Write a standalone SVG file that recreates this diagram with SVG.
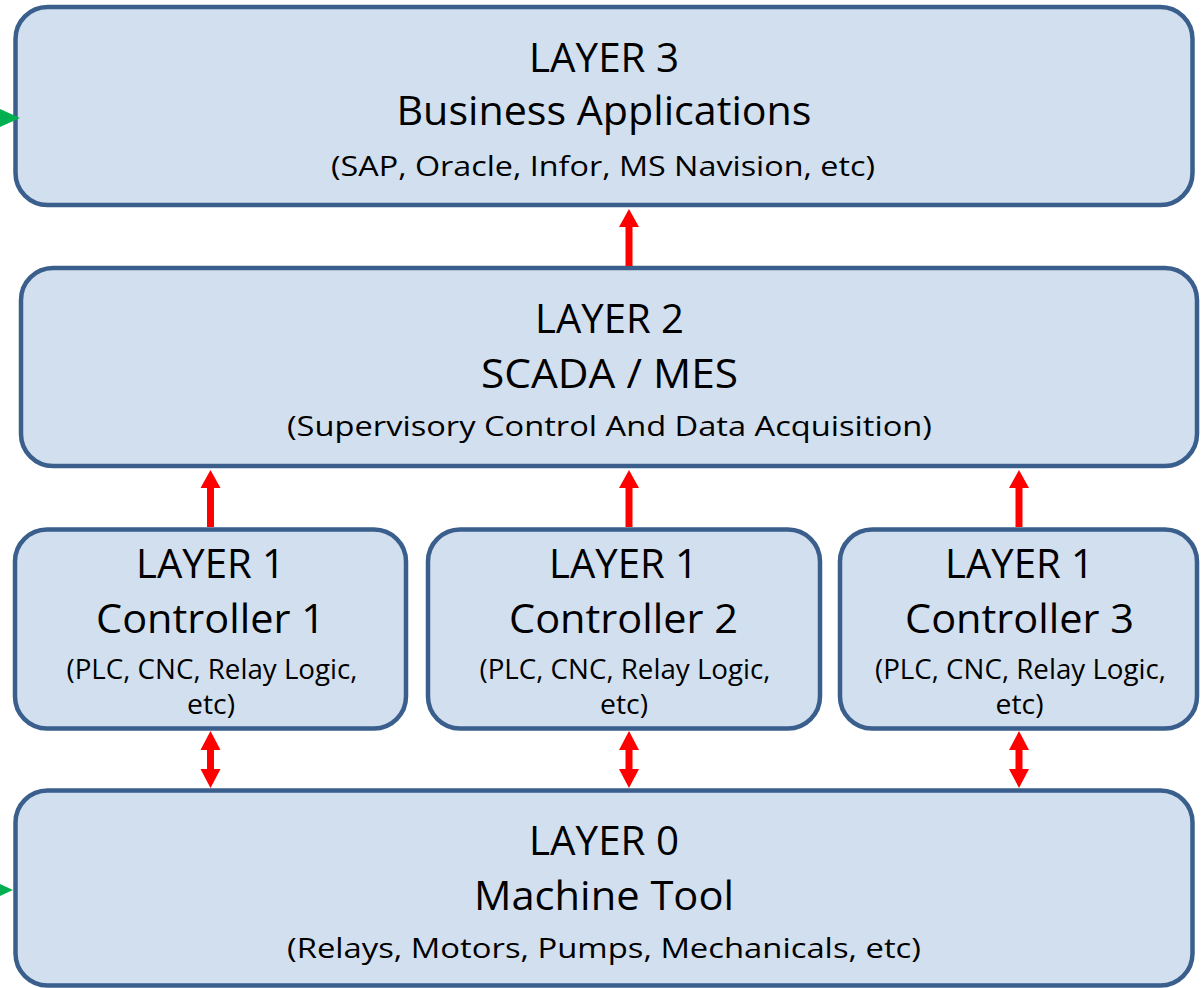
<svg xmlns="http://www.w3.org/2000/svg" width="1204" height="988" viewBox="0 0 1204 988">
<style>
.box{fill:#D2DFEE;stroke:#3A5F8D;stroke-width:4.5}
.t{font-family:"Open Sans",Lato,"Liberation Sans",sans-serif;fill:#000;text-anchor:middle}
.big{font-size:40px}
.sm{font-size:28px}
.red{fill:#FF0000}
.grn{fill:#00B050}
</style>
<rect width="1204" height="988" fill="#FFFFFF"/>
<g id="layer3">
<rect class="box" x="15.5" y="7" width="1177" height="198" rx="32"/>
<text class="t big" x="604" y="72" textLength="150" lengthAdjust="spacingAndGlyphs">LAYER 3</text>
<text class="t big" x="604" y="125" textLength="415" lengthAdjust="spacingAndGlyphs">Business Applications</text>
<text class="t sm" x="603" y="176" textLength="544" lengthAdjust="spacingAndGlyphs">(SAP, Oracle, Infor, MS Navision, etc)</text>
</g>
<g id="layer2">
<rect class="box" x="21" y="268" width="1176" height="198" rx="32"/>
<text class="t big" x="609.5" y="333" textLength="149" lengthAdjust="spacingAndGlyphs">LAYER 2</text>
<text class="t big" x="609.5" y="388" textLength="257" lengthAdjust="spacingAndGlyphs">SCADA / MES</text>
<text class="t sm" x="609.5" y="436" textLength="645" lengthAdjust="spacingAndGlyphs">(Supervisory Control And Data Acquisition)</text>
</g>
<g id="controller1">
<rect class="box" x="15" y="529.5" width="391" height="199" rx="32"/>
<text class="t big" x="210.5" y="578" textLength="149" lengthAdjust="spacingAndGlyphs">LAYER 1</text>
<text class="t big" x="210.5" y="633" textLength="229" lengthAdjust="spacingAndGlyphs">Controller 1</text>
<text class="t sm" x="212" y="679" textLength="291" lengthAdjust="spacingAndGlyphs">(PLC, CNC, Relay Logic,</text>
<text class="t sm" x="211" y="714" textLength="48" lengthAdjust="spacingAndGlyphs">etc)</text>
</g>
<g id="controller2">
<rect class="box" x="428" y="529.5" width="392" height="199" rx="32"/>
<text class="t big" x="623.5" y="578" textLength="149" lengthAdjust="spacingAndGlyphs">LAYER 1</text>
<text class="t big" x="623.5" y="633" textLength="229" lengthAdjust="spacingAndGlyphs">Controller 2</text>
<text class="t sm" x="625" y="679" textLength="291" lengthAdjust="spacingAndGlyphs">(PLC, CNC, Relay Logic,</text>
<text class="t sm" x="624" y="714" textLength="48" lengthAdjust="spacingAndGlyphs">etc)</text>
</g>
<g id="controller3">
<rect class="box" x="840" y="529.5" width="357" height="199" rx="32"/>
<text class="t big" x="1019.5" y="578" textLength="149" lengthAdjust="spacingAndGlyphs">LAYER 1</text>
<text class="t big" x="1019.5" y="633" textLength="229" lengthAdjust="spacingAndGlyphs">Controller 3</text>
<text class="t sm" x="1020.5" y="679" textLength="291" lengthAdjust="spacingAndGlyphs">(PLC, CNC, Relay Logic,</text>
<text class="t sm" x="1019.5" y="714" textLength="48" lengthAdjust="spacingAndGlyphs">etc)</text>
</g>
<g id="layer0">
<rect class="box" x="15.5" y="790.5" width="1177" height="195" rx="32"/>
<text class="t big" x="604" y="855" textLength="150" lengthAdjust="spacingAndGlyphs">LAYER 0</text>
<text class="t big" x="604" y="910" textLength="260" lengthAdjust="spacingAndGlyphs">Machine Tool</text>
<text class="t sm" x="604" y="958" textLength="634" lengthAdjust="spacingAndGlyphs">(Relays, Motors, Pumps, Mechanicals, etc)</text>
</g>
<g id="connectors">
<polygon class="red" points="629,209 639,227 632.5,227 632.5,266 625.5,266 625.5,227 619,227"/>
<polygon class="red" points="210.5,470 220.5,488 214,488 214,527 207,527 207,488 200.5,488"/>
<polygon class="red" points="629,470 639,488 632.5,488 632.5,527 625.5,527 625.5,488 619,488"/>
<polygon class="red" points="1019,470 1029,488 1022.5,488 1022.5,527 1015.5,527 1015.5,488 1009,488"/>
<polygon class="red" points="210.5,731 220.5,750 214,750 214,769 220.5,769 210.5,788 200.5,769 207,769 207,750 200.5,750"/>
<polygon class="red" points="629,731 639,750 632.5,750 632.5,769 639,769 629,788 619,769 625.5,769 625.5,750 619,750"/>
<polygon class="red" points="1019,731 1029,750 1022.5,750 1022.5,769 1029,769 1019,788 1009,769 1015.5,769 1015.5,750 1009,750"/>
<polygon class="grn" points="-2,108 20,118 -2,128"/>
<polygon class="grn" points="-9,880 13,890 -9,900"/>
</g>
</svg>
